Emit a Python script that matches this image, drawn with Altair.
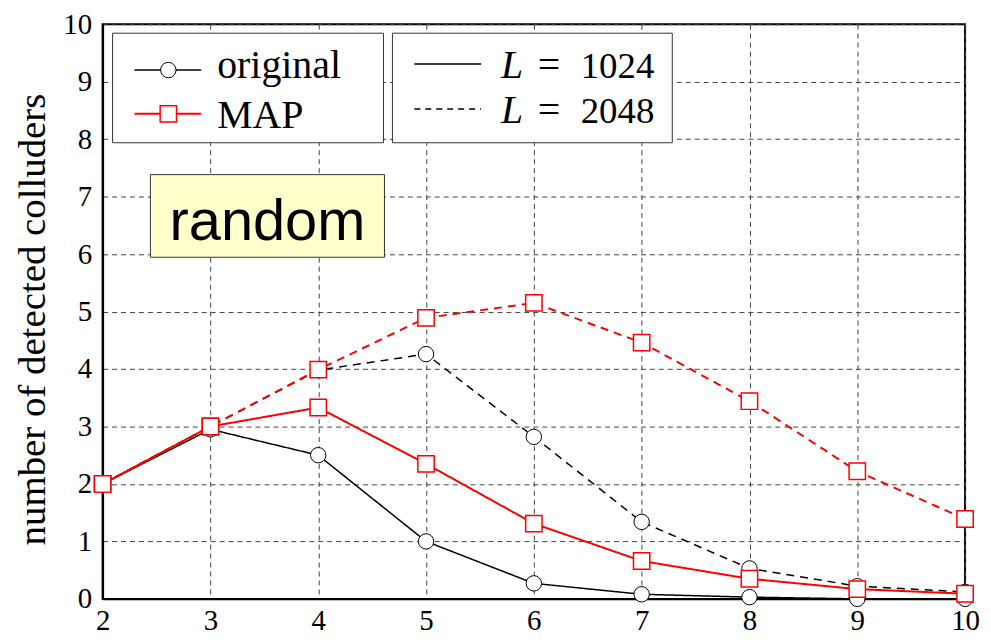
import altair as alt
import pandas as pd

# ---- data ----
x_vals = [2, 3, 4, 5, 6, 7, 8, 9, 10]
methods = ["original", "MAP"]
lengths = [1024, 2048]
orig_1024 = [2.0, 2.95, 2.5, 1.0, 0.27, 0.08, 0.03, 0.0, 0.0]
orig_2048 = [2.0, 3.0, 3.98, 4.26, 2.82, 1.34, 0.53, 0.22, 0.12]
map_1024 = [2.0, 3.0, 3.33, 2.35, 1.31, 0.66, 0.35, 0.17, 0.09]
map_2048 = [2.0, 3.0, 3.99, 4.89, 5.15, 4.46, 3.44, 2.22, 1.39]
x_ticks = [2, 3, 4, 5, 6, 7, 8, 9, 10]
y_ticks = [0, 1, 2, 3, 4, 5, 6, 7, 8, 9, 10]
y_title = "number of detected colluders"
annotation = "random"

series = {
    ("original", 1024): orig_1024,
    ("original", 2048): orig_2048,
    ("MAP", 1024): map_1024,
    ("MAP", 2048): map_2048,
}
rows = []
for (m, L), ys in series.items():
    for xv, yv in zip(x_vals, ys):
        rows.append({"method": m, "L": str(L), "x": xv, "y": yv})
df = pd.DataFrame(rows)

SERIF = "Liberation Serif"
W, H = 866, 577

x_enc = alt.X("x:Q", scale=alt.Scale(domain=[2, 10], nice=False),
              axis=alt.Axis(values=x_ticks, title=None, format="d", labelPadding=8,
                            labelFontSize=29, labelFont=SERIF, labelColor="black",
                            ticks=False, grid=True, gridDash=[5, 4], gridColor="#444",
                            gridWidth=1, gridOpacity=1, domainColor="black", domainWidth=2,
                            labelFlush=False))
y_enc = alt.Y("y:Q", scale=alt.Scale(domain=[0, 10], nice=False),
              axis=alt.Axis(values=y_ticks, title=y_title, format="d", labelPadding=11,
                            labelFontSize=29, labelFont=SERIF, labelColor="black",
                            ticks=False, grid=True, gridDash=[5, 4], gridColor="#444",
                            gridWidth=1, gridOpacity=1, domainColor="black", domainWidth=2,
                            titleFont=SERIF, titleFontSize=39, titleFontWeight="normal",
                            titleColor="black", titleAngle=-90, titleX=-58, titleY=296,
                            titleAlign="center", titleBaseline="alphabetic"))

dash_scale = alt.Scale(domain=[str(l) for l in lengths], range=[[1, 0], [8, 6]])

base = alt.Chart(df).encode(x=x_enc, y=y_enc)

def series_layers(method, color, width, shape, size, stroke_w):
    sub = base.transform_filter(alt.datum.method == method)
    line = sub.mark_line(color=color, strokeWidth=width).encode(
        strokeDash=alt.StrokeDash("L:N", scale=dash_scale, legend=None),
        detail="L:N")
    pts = sub.mark_point(shape=shape, size=size, filled=True, fill="white",
                         stroke=color, strokeWidth=stroke_w, opacity=1).encode(detail="L:N")
    return [line, pts]

layers = []
layers += series_layers("original", "black", 1.5, "circle", 240, 1)
layers += series_layers("MAP", "#ff0000", 2, "square", 270, 1.5)

one = pd.DataFrame({"k": [0]})

def box(x1, x2, y1, y2, fill, stroke):
    return alt.Chart(one).mark_rect(fill=fill, stroke=stroke, strokeWidth=1).encode(
        x=alt.value(x1), x2=alt.value(x2), y=alt.value(y1), y2=alt.value(y2))

def rule(x1, x2, y, color, width, dash):
    return alt.Chart(one).mark_rule(color=color, strokeWidth=width, strokeDash=dash).encode(
        x=alt.value(x1), x2=alt.value(x2), y=alt.value(y))

def label(text, x, y, size, font, align="left", style="normal"):
    return alt.Chart(pd.DataFrame({"t": [text]})).mark_text(
        align=align, baseline="alphabetic", fontSize=size, font=font,
        fontStyle=style, color="black").encode(
        x=alt.value(x), y=alt.value(y), text="t:N")

# legend 1: methods
layers.append(box(10, 282, 9, 119, "white", "#333"))
layers.append(rule(32, 99, 46, "black", 1.5, [1, 0]))
layers.append(alt.Chart(one).mark_point(shape="circle", size=240, filled=True, fill="white",
                                        stroke="black", strokeWidth=1, opacity=1)
              .encode(x=alt.value(66), y=alt.value(46)))
layers.append(rule(32, 99, 90, "#ff0000", 2, [1, 0]))
layers.append(alt.Chart(one).mark_point(shape="square", size=270, filled=True, fill="white",
                                        stroke="#ff0000", strokeWidth=1.5, opacity=1)
              .encode(x=alt.value(66), y=alt.value(90)))
layers.append(label(methods[0], 115, 54, 40, SERIF))
layers.append(label(methods[1], 115, 104, 40, SERIF))

# legend 2: code lengths
layers.append(box(291, 572, 9, 119, "white", "#333"))
layers.append(rule(313, 380, 40, "black", 1.5, [1, 0]))
layers.append(rule(313, 380, 85, "black", 1.5, [6, 5]))
for L, yb in zip(lengths, [54, 99]):
    layers.append(label("L", 400, yb, 40, SERIF, style="italic"))
    layers.append(label("=", 437, yb, 40, SERIF))
    layers.append(label(str(L), 480, yb, 37, SERIF))

# annotation box
layers.append(box(48, 283, 151, 234, "#ffffcc", "#333"))
layers.append(label(annotation, 165.5, 217, 58, "Liberation Sans", align="center"))

chart = alt.layer(*layers).properties(
    width=W, height=H,
    autosize=alt.AutoSizeParams(type="none"),
    padding={"left": 95, "top": 15, "right": 18, "bottom": 40},
    background="white",
).configure_view(stroke="black", strokeWidth=2)

chart.save("out.html", embed_options={"renderer": "svg", "actions": False})
